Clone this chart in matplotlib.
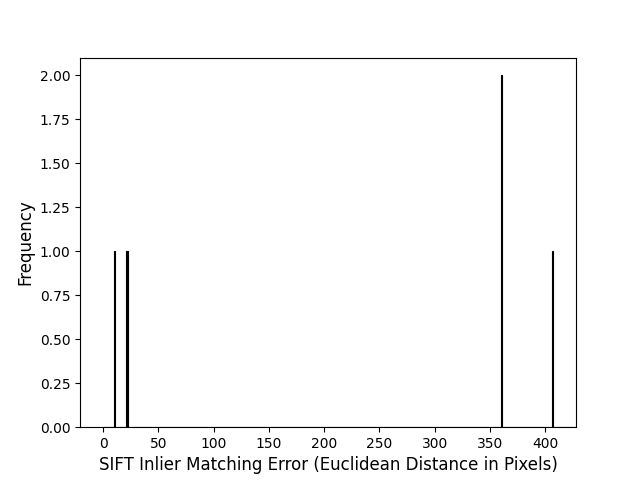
import matplotlib
matplotlib.use("Agg")
import matplotlib.pyplot as plt
import numpy as np

errors = [10.5, 21.5, 360.5, 360.5, 406.5]

fig, ax = plt.subplots(figsize=(6.4, 4.8), dpi=100)
ax.hist(errors, bins=np.arange(0, 430, 1.0), color="black", edgecolor="black", linewidth=0.8)
ax.set_xlim(-21, 428)
ax.set_xticks(np.arange(0, 401, 50))
ax.set_yticks(np.arange(0, 2.01, 0.25))
ax.set_xlabel("SIFT Inlier Matching Error (Euclidean Distance in Pixels)", fontsize=12)
ax.set_ylabel("Frequency", fontsize=12)
ax.yaxis.set_major_formatter(matplotlib.ticker.FormatStrFormatter("%.2f"))
fig.savefig("out.png")
